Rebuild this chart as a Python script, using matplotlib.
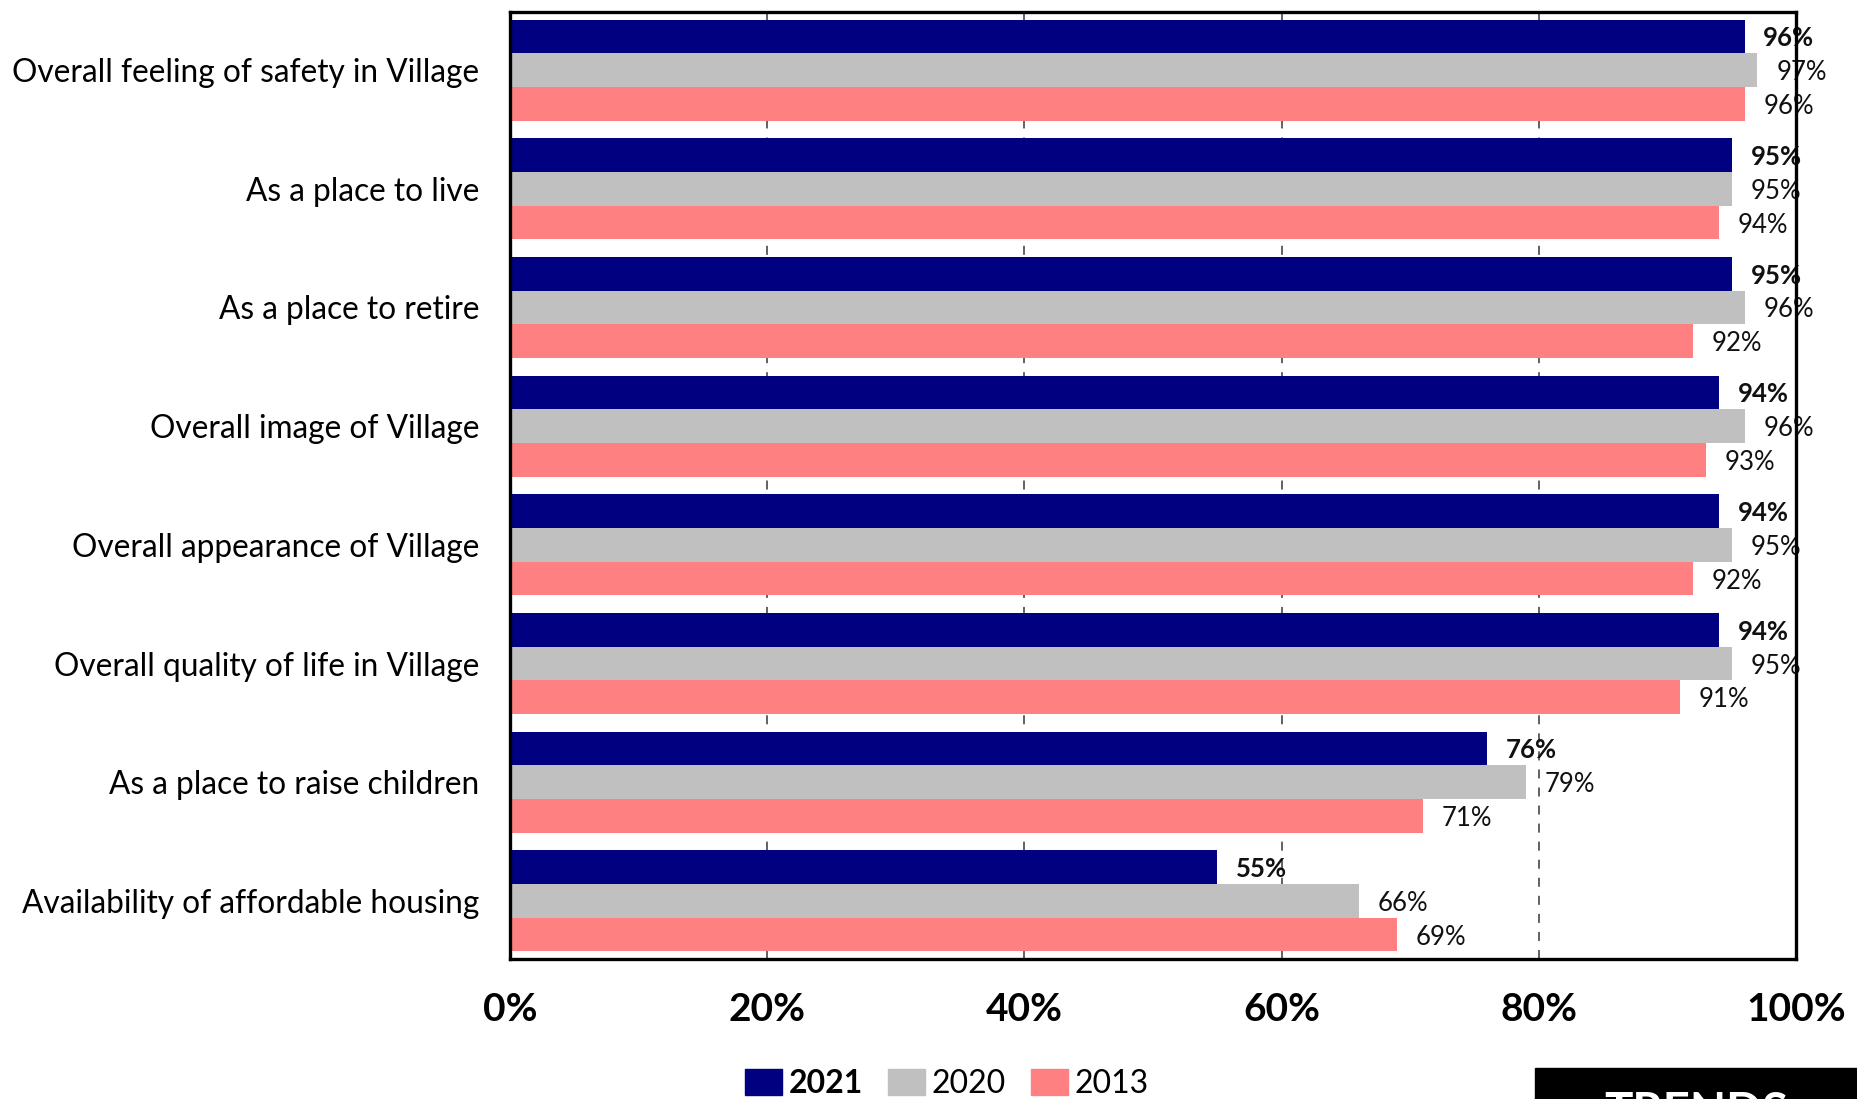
import matplotlib.pyplot as plt
import numpy as np
from matplotlib.patches import Patch, Rectangle

plt.rcParams['font.family'] = ['Lato', 'DejaVu Sans']

# Survey items, top to bottom
items = ['Overall feeling of safety in Village', 'As a place to live', 'As a place to retire',
         'Overall image of Village', 'Overall appearance of Village', 'Overall quality of life in Village',
         'As a place to raise children', 'Availability of affordable housing']
years = ['2021', '2020', '2013']
v2021 = [96, 95, 95, 94, 94, 94, 76, 55]
v2020 = [97, 95, 96, 96, 95, 95, 79, 66]
v2013 = [96, 94, 92, 93, 92, 91, 71, 69]
colors = ['#000080', '#C0C0C0', '#FF8080']

fig = plt.figure(figsize=(18.58, 10.99), dpi=100)
ax = fig.add_axes([510 / 1858, 1 - 959 / 1099, 1286 / 1858, 947 / 1099])

y = np.arange(len(items))
h = 0.284
for k, (vals, c) in enumerate(zip([v2021, v2020, v2013], colors)):
    pos = y + (k - 1) * h
    ax.barh(pos, vals, height=h, color=c, zorder=2)
    for p, v in zip(pos, vals):
        ax.annotate(f'{v}%', (v, p), xytext=(13.5, 0), textcoords='offset points',
                    va='center_baseline', ha='left', fontsize=18.5, color='#111111',
                    fontweight='bold' if k == 0 else 'normal', zorder=4)

ax.set_xlim(0, 100)
ax.set_ylim(len(items) - 0.51, -0.49)
ax.set_xticks(np.arange(0, 101, 20))
ax.set_xticklabels([f'{t}%' for t in range(0, 101, 20)], fontsize=28, fontweight='bold')
ax.set_yticks(y)
ax.set_yticklabels(items, fontsize=22.8)
ax.tick_params(axis='x', length=0, pad=24)
ax.tick_params(axis='y', length=0, pad=22)
for t in [20, 40, 60, 80]:
    ax.axvline(t, color='#555555', ls=(0, (5, 5)), lw=1.3, zorder=1)
for s in ax.spines.values():
    s.set_linewidth(2.4)
    s.set_color('black')
    s.set_zorder(5)

handles = [Patch(color=c) for c in colors]
leg = fig.legend(handles, years, loc='center', bbox_to_anchor=(947 / 1858, 1 - 1084 / 1099),
                 ncol=3, frameon=False, fontsize=23, handlelength=1.15, handleheight=0.85,
                 handletextpad=0.2, columnspacing=0.8)
leg.get_texts()[0].set_fontweight('bold')

# black banner in the corner
fig.patches.append(Rectangle((1535 / 1858, 0), 1 - 1535 / 1858, (1099 - 1068) / 1099,
                             transform=fig.transFigure, color='black'))
fig.text(1696 / 1858, -14 / 1099, 'TRENDS', color='white', fontsize=34, fontweight='bold',
         ha='center', va='center')

fig.savefig('out.png', dpi=100)
